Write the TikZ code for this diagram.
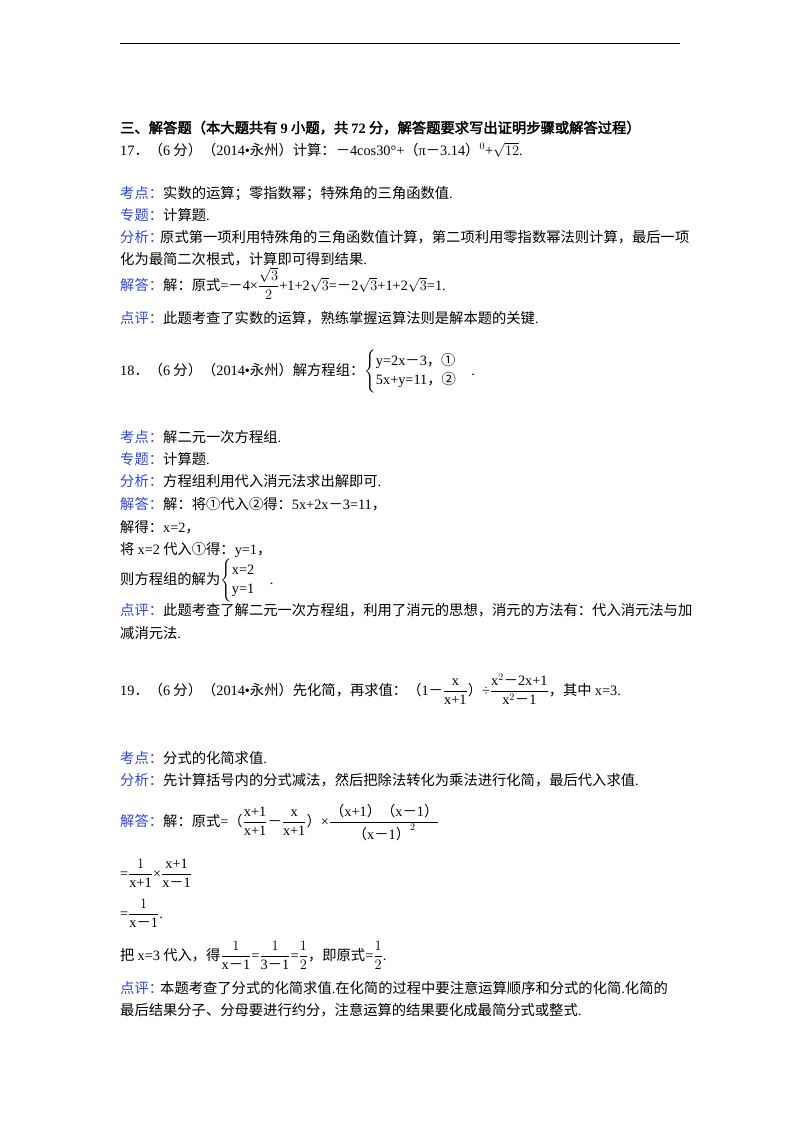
\documentclass[tikz,border=0pt]{standalone}
\usepackage{fontspec}
\usepackage{amsmath}
\setmainfont{Noto Sans CJK SC}[AutoFakeBold=2.5]
\newfontfamily\lat{Liberation Serif}
\newcommand{\e}[1]{{\lat #1}}
\newcommand{\te}[1]{\text{\lat #1}}
\definecolor{lbl}{RGB}{45,70,225}
\begin{document}
\begin{tikzpicture}[x=1pt,y=-1pt,
  t/.style={anchor=base west,inner sep=0pt,font=\fontsize{14.3}{16}\selectfont},
  lb/.style={t,text=lbl}]
\useasboundingbox (0,0) rectangle (800,1132);
\coordinate (L1) at (120,43); \coordinate (L2) at (680,43);
\draw[line width=0.8pt] (L1) -- (L2);
% heading
\node[t,font=\fontsize{14.3}{16}\selectfont\bfseries] (h) at (120,133) {三、解答题（本大题共有 \e{\textbf{9}} 小题，共 \e{\textbf{72}} 分，解答题要求写出证明步骤或解答过程）};
% Q17
\node[t] (q17) at (120,155) {\e{17}．（\e{6} 分）（\e{2014•}永州）计算：－\e{4cos30°+}（\e{π}－\e{3.14}）\(^{0}\)\e{+}\(\sqrt{12}\)\e{.}};
\node[lb] (k17) at (120,198) {考点：};
\node[t] (k17t) at (163,198) {实数的运算；零指数幂；特殊角的三角函数值\e{.}};
\node[lb] (z17) at (120,220) {专题：};
\node[t] (z17t) at (163,220) {计算题\e{.}};
\node[lb] (f17) at (120,242) {分析：};
\node[t] (f17t) at (160,242) {原式第一项利用特殊角的三角函数值计算，第二项利用零指数幂法则计算，最后一项};
\node[t] (f17u) at (120,264) {化为最简二次根式，计算即可得到结果\e{.}};
\node[lb] (j17) at (120,290) {解答：};
\node[t] (j17t) at (163,290) {解：原式\e{=}－\e{4×}\(\dfrac{\sqrt3}{2}\)\e{+1+2}\(\sqrt3\)\e{=}－\e{2}\(\sqrt3\)\e{+1+2}\(\sqrt3\)\e{=1.}};
\node[lb] (d17) at (120,323) {点评：};
\node[t] (d17t) at (163,323) {此题考查了实数的运算，熟练掌握运算法则是解本题的关键\e{.}};
% Q18
\node[t] (q18) at (120,375) {\e{18}．（\e{6} 分）（\e{2014•}永州）解方程组：\(\begin{cases}\text{\e{y=2x}－\e{3}，①}\\ \text{\e{5x+y=11}，②}\end{cases}\)\e{.}};
\node[lb] (k18) at (120,442) {考点：};
\node[t] (k18t) at (163,442) {解二元一次方程组\e{.}};
\node[lb] (z18) at (120,464) {专题：};
\node[t] (z18t) at (163,464) {计算题\e{.}};
\node[lb] (f18) at (120,486) {分析：};
\node[t] (f18t) at (163,486) {方程组利用代入消元法求出解即可\e{.}};
\node[lb] (j18) at (120,509) {解答：};
\node[t] (j18t) at (163,509) {解：将①代入②得：\e{5x+2x}－\e{3=11}，};
\node[t] (j18a) at (120,532) {解得：\e{x=2}，};
\node[t] (j18b) at (120,554) {将 \e{x=2} 代入①得：\e{y=1}，};
\node[t] (j18c) at (120,584) {则方程组的解为\(\begin{cases}\te{x=2}\\ \te{y=1}\end{cases}\)\e{.}};
\node[lb] (d18) at (120,615) {点评：};
\node[t] (d18t) at (163,615) {此题考查了解二元一次方程组，利用了消元的思想，消元的方法有：代入消元法与加};
\node[t] (d18u) at (120,638) {减消元法\e{.}};
% Q19
\node[t] (q19) at (120,695) {\e{19}．（\e{6} 分）（\e{2014•}永州）先化简，再求值：（\e{1}－\(\dfrac{\te{x}}{\te{x+1}}\)）\e{÷}\(\dfrac{\te{x}^{2}\text{－}\te{2x+1}}{\te{x}^{2}\text{－}\te{1}}\)，其中 \e{x=3.}};
\node[lb] (k19) at (120,763) {考点：};
\node[t] (k19t) at (163,763) {分式的化简求值\e{.}};
\node[lb] (f19) at (120,785) {分析：};
\node[t] (f19t) at (163,785) {先计算括号内的分式减法，然后把除法转化为乘法进行化简，最后代入求值\e{.}};
\node[lb] (j19) at (120,826) {解答：};
\node[t] (j19t) at (163,826) {解：原式\e{=}（\(\dfrac{\te{x+1}}{\te{x+1}}\)－\(\dfrac{\te{x}}{\te{x+1}}\)）\e{×}\(\dfrac{\text{（\e{x+1}）（\e{x}－\e{1}）}}{\text{（\e{x}－\e{1}）}^{2}}\)};
\node[t] (j19a) at (120,878) {\e{=}\(\dfrac{1}{\te{x+1}}\)\e{×}\(\dfrac{\te{x+1}}{\text{\e{x}－\e{1}}}\)};
\node[t] (j19b) at (120,918) {\e{=}\(\dfrac{1}{\text{\e{x}－\e{1}}}\)\e{.}};
\node[t] (j19c) at (120,960) {把 \e{x=3} 代入，得\(\dfrac{1}{\text{\e{x}－\e{1}}}\)\e{=}\(\dfrac{1}{\text{\e{3}－\e{1}}}\)\e{=}\(\dfrac12\)，即原式\e{=}\(\dfrac12\)\e{.}};
\node[lb] (d19) at (120,993) {点评：};
\node[t] (d19t) at (160,993) {本题考查了分式的化简求值\e{.}在化简的过程中要注意运算顺序和分式的化简\e{.}化简的};
\node[t] (d19u) at (120,1015) {最后结果分子、分母要进行约分，注意运算的结果要化成最简分式或整式\e{.}};
\end{tikzpicture}
\end{document}
